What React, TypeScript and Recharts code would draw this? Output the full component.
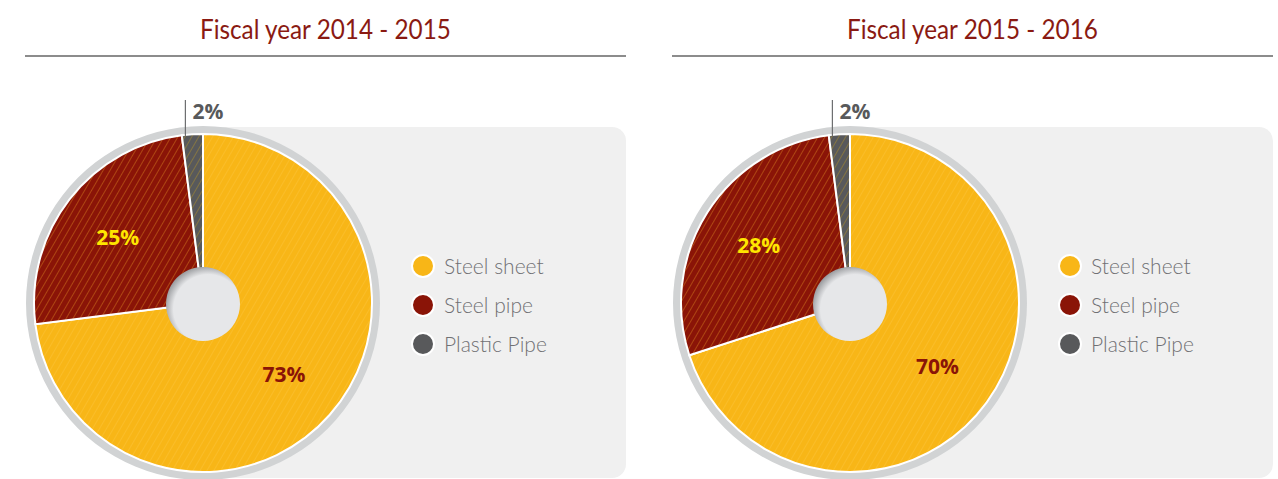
import { PieChart, Pie, Cell, Legend } from "recharts";

const categories = ["Steel sheet", "Steel pipe", "Plastic Pipe"];
const fy1415 = [73, 25, 2];
const fy1516 = [70, 28, 2];
const titles = ["Fiscal year 2014 - 2015", "Fiscal year 2015 - 2016"];

const solid = ["#f8b617", "#8a1407", "#58595b"];
const stripe = ["#fcc43a", "#d2781f", "#b0902a"];
const labelColors = ["#8a1407", "#ffe600", "#58595b"];

const RAD = Math.PI / 180;

const SliceLabel = (props: any) => {
  const { cx, cy, midAngle, outerRadius, index, value } = props;
  if (index === 2) {
    // small slice: vertical leader line + text above the pie
    const x = cx + outerRadius * Math.cos(-midAngle * RAD) - 7;
    const top = cy - outerRadius;
    return (
      <g>
        <line x1={x} y1={top - 34} x2={x} y2={top + 2} stroke="#6d6e70" strokeWidth={1.2} />
        <text x={x + 7} y={top - 23} fill={labelColors[index]} fontSize={21} fontWeight={700}
          fontFamily="'Open Sans', sans-serif" dominantBaseline="central">
          {value}%
        </text>
      </g>
    );
  }
  const r = 108;
  const x = cx + r * Math.cos(-midAngle * RAD);
  const y = cy + r * Math.sin(-midAngle * RAD);
  return (
    <text x={x} y={y} fill={labelColors[index]} fontSize={21} fontWeight={700}
      fontFamily="'Open Sans', sans-serif" textAnchor="middle" dominantBaseline="central">
      {value}%
    </text>
  );
};

const LegendBox = () => (
  <div style={{ fontFamily: "Lato, sans-serif" }}>
    {categories.map((c, i) => (
      <div key={c} style={{ display: "flex", alignItems: "center", height: 39 }}>
        <span
          style={{
            width: 20,
            height: 20,
            borderRadius: "50%",
            background: solid[i],
            border: "2px solid #fff",
            marginRight: 9,
          }}
        />
        <span style={{ fontSize: 21, fontWeight: 300, color: "#707174" }}>{c}</span>
      </div>
    ))}
  </div>
);

const Panel = ({ title, values, left, id }: { title: string; values: number[]; left: number; id: string }) => {
  const data = categories.map((name, i) => ({ name, value: values[i] }));
  return (
    <div style={{ position: "absolute", left, top: 0, width: 640, height: 479 }}>
      <div
        style={{
          position: "absolute",
          left: 25,
          width: 601,
          top: 12,
          textAlign: "center",
        }}
      >
        <span
          style={{
            display: "inline-block",
            color: "#8a1a12",
            fontSize: 27,
            fontFamily: "Lato, sans-serif",
            transform: "scaleX(0.9)",
          }}
        >
          {title}
        </span>
      </div>
      <div style={{ position: "absolute", left: 25, top: 55, width: 601, height: 1.5, background: "#8c8c8c" }} />
      <div
        style={{
          position: "absolute",
          left: 200,
          top: 127,
          width: 426,
          height: 351,
          borderRadius: 14,
          background: "#f0f0f0",
        }}
      />
      <div style={{ position: "absolute", left: 0, top: 0 }}>
        <PieChart width={640} height={479} margin={{ top: 0, right: 0, bottom: 0, left: 0 }}>
          <defs>
            {solid.map((c, i) => (
              <pattern key={c} id={`${id}-hatch-${i}`} width="6" height="6" patternUnits="userSpaceOnUse"
                patternTransform="rotate(30)">
                <rect width="6" height="6" fill={c} />
                <line x1="0" y1="0" x2="0" y2="6" stroke={stripe[i]} strokeWidth={1} />
              </pattern>
            ))}
            <radialGradient id={`${id}-hole`} cx="57%" cy="57%" r="60%">
              <stop offset="0.78" stopColor="#e6e7e9" />
              <stop offset="1" stopColor="#96989b" />
            </radialGradient>
          </defs>
          <Pie
            data={[{ name: "ring", value: 1 }]}
            dataKey="value"
            cx={203}
            cy={303}
            innerRadius={168}
            outerRadius={177}
            fill="#d1d3d4"
            stroke="none"
            legendType="none"
            isAnimationActive={false}
          />
          <Pie
            data={data}
            dataKey="value"
            cx={203}
            cy={303}
            innerRadius={0}
            outerRadius={169}
            startAngle={90}
            endAngle={-270}
            stroke="#fff"
            strokeWidth={2}
            label={SliceLabel}
            labelLine={false}
            isAnimationActive={false}
          >
            {data.map((d, i) => (
              <Cell key={d.name} fill={`url(#${id}-hatch-${i})`} />
            ))}
          </Pie>
          <Pie
            data={[{ name: "hole", value: 1 }]}
            dataKey="value"
            cx={203}
            cy={304}
            innerRadius={0}
            outerRadius={37}
            fill={`url(#${id}-hole)`}
            stroke="none"
            legendType="none"
            isAnimationActive={false}
          />
          <Legend
            content={LegendBox}
            layout="vertical"
            wrapperStyle={{ position: "absolute", left: 411, top: 246, width: 220 }}
          />
        </PieChart>
      </div>
    </div>
  );
};

export default function App() {
  return (
    <div style={{ position: "absolute", left: 0, top: 0, width: 1278, height: 479, background: "#fff" }}>
      <Panel title={titles[0]} values={fy1415} left={0} id="a" />
      <Panel title={titles[1]} values={fy1516} left={647} id="b" />
    </div>
  );
}
